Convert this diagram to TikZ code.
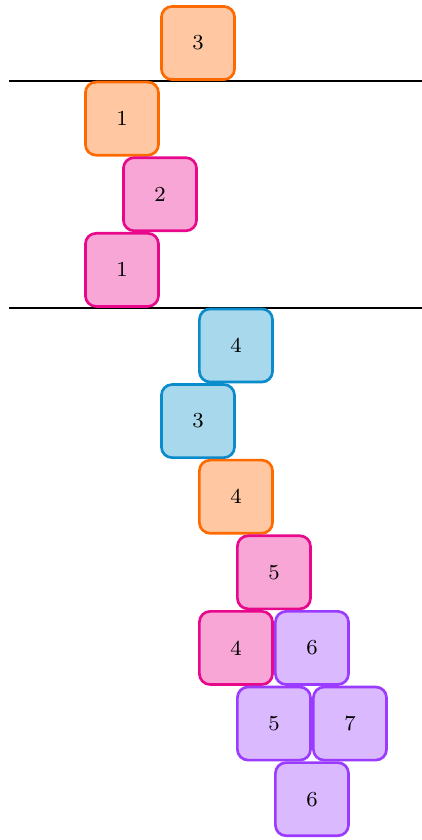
\documentclass[tikz,border=0pt]{standalone}
\usepackage{tikz}
\usepackage{xcolor}
\usetikzlibrary{positioning}
\definecolor{orangefill}{HTML}{FFC8A2}
\definecolor{orangeline}{HTML}{FF6A00}
\definecolor{pinkfill}{HTML}{F7A6D6}
\definecolor{pinkline}{HTML}{E8088C}
\definecolor{bluefill}{HTML}{A8D8EC}
\definecolor{blueline}{HTML}{0A8BCB}
\definecolor{purplefill}{HTML}{DAB9FF}
\definecolor{purpleline}{HTML}{9B3BFF}
\tikzset{
	cell/.style={rectangle, rounded corners=4pt, line width=1pt,
		minimum size=0.962cm, inner sep=0pt, font=\footnotesize},
	orangecell/.style={cell, draw=orangeline, fill=orangefill},
	pinkcell/.style={cell, draw=pinkline, fill=pinkfill},
	bluecell/.style={cell, draw=blueline, fill=bluefill},
	purplecell/.style={cell, draw=purpleline, fill=purplefill},
	divider/.style={line width=0.8pt, black},
}

\begin{document}
\begin{tikzpicture}[x=0.5cm, y=-0.995cm]
	\useasboundingbox (-0.21,-0.569) rectangle (10.89,10.54);
	% separators
	\coordinate (ltop) at (0.03,0.5);  \coordinate (rtop) at (10.89,0.5);
	\coordinate (lbot) at (0.03,3.5);  \coordinate (rbot) at (10.89,3.5);
	\draw[divider](ltop)--(rtop);
	\draw[divider](lbot)--(rbot);
	% upper part
	\node[orangecell](top3) at (5,0){3};
	\node[orangecell](o1) at (3,1){1};
	\node[pinkcell](p2) at (4,2){2};
	\node[pinkcell](p1) at (3,3){1};
	% lower part
	\node[bluecell](b4) at (6,4){4};
	\node[bluecell](b3) at (5,5){3};
	\node[orangecell](o4) at (6,6){4};
	\node[pinkcell](p5) at (7,7){5};
	\node[pinkcell](p4) at (6,8){4};
	\node[purplecell](u6) at (8,8){6};
	\node[purplecell](u5) at (7,9){5};
	\node[purplecell](u7) at (9,9){7};
	\node[purplecell](u6b) at (8,10){6};
\end{tikzpicture}
\end{document}
